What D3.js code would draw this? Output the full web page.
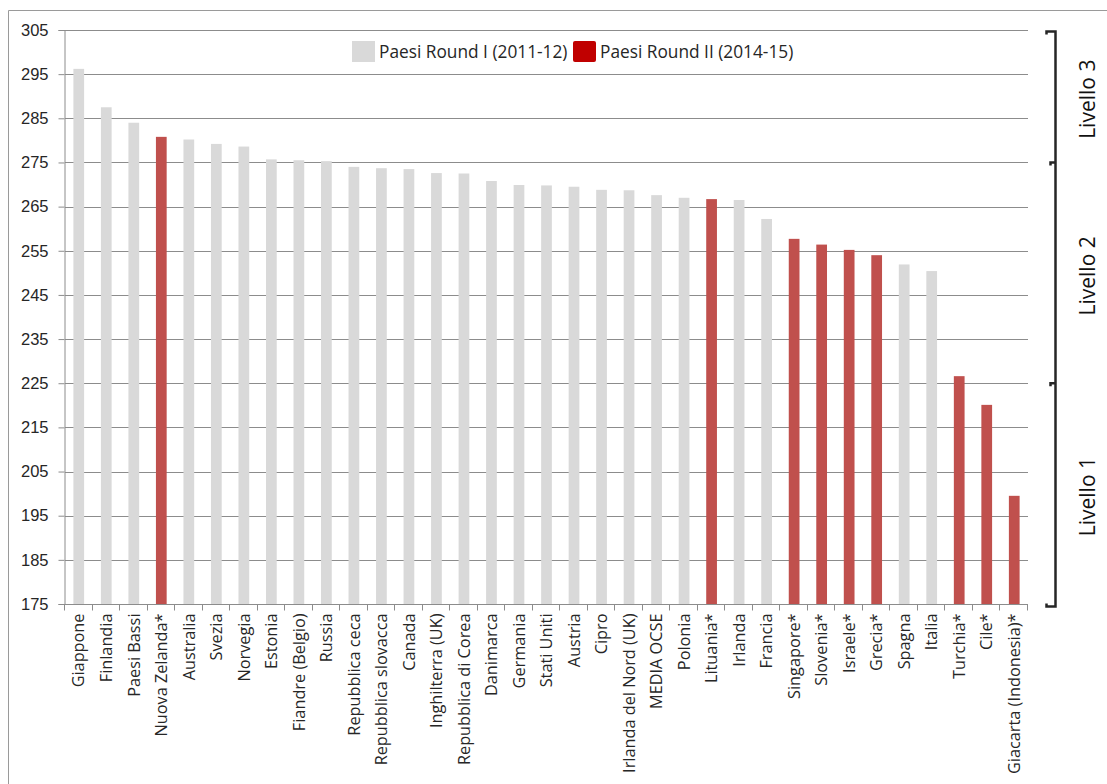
<!DOCTYPE html>
<html>
<head>
<meta charset="utf-8">
<script src="https://cdn.jsdelivr.net/npm/d3@7"></script>
<style>
  html, body { margin: 0; padding: 0; background: #fff; overflow: hidden; }
  svg { display: block; font-family: "Open Sans", "Noto Sans", sans-serif; }
</style>
</head>
<body>
<svg id="chart" width="1107" height="784"></svg>
<script>
// Countries in ranking order
const categories = [
  "Giappone", "Finlandia", "Paesi Bassi", "Nuova Zelanda*", "Australia", "Svezia",
  "Norvegia", "Estonia", "Fiandre (Belgio)", "Russia", "Repubblica ceca",
  "Repubblica slovacca", "Canada", "Inghilterra (UK)", "Repubblica di Corea",
  "Danimarca", "Germania", "Stati Uniti", "Austria", "Cipro", "Irlanda del Nord (UK)",
  "MEDIA OCSE", "Polonia", "Lituania*", "Irlanda", "Francia", "Singapore*",
  "Slovenia*", "Israele*", "Grecia*", "Spagna", "Italia", "Turchia*", "Cile*",
  "Giacarta (Indonesia)*"
];

// Mean score per country
const values = [
  296.2, 287.5, 284.0, 280.8, 280.2, 279.2,
  278.6, 275.7, 275.5, 275.3, 274.0,
  273.7, 273.5, 272.6, 272.5,
  270.8, 269.9, 269.8, 269.5, 268.8, 268.7,
  267.6, 267.0, 266.7, 266.5, 262.2, 257.7,
  256.4, 255.2, 254.0, 251.9, 250.4, 226.6, 220.1,
  199.5
];

// Survey round of each country (1 = 2011-12, 2 = 2014-15)
const rounds = [
  1, 1, 1, 2, 1, 1,
  1, 1, 1, 1, 1,
  1, 1, 1, 1,
  1, 1, 1, 1, 1, 1,
  1, 1, 2, 1, 1, 2,
  2, 2, 2, 1, 1, 2, 2,
  2
];

const yTicks = [175, 185, 195, 205, 215, 225, 235, 245, 255, 265, 275, 285, 295, 305];
const legendLabels = ["Paesi Round I (2011-12)", "Paesi Round II (2014-15)"];

// Proficiency levels and their score boundaries
const levelNames = ["Livello 1", "Livello 2", "Livello 3"];
const levelBounds = [175, 225, 275, 305];

const svg = d3.select("#chart");
const margin = { left: 65, right: 1028, top: 30, bottom: 604 };
const textColor = "#262626";

const x = d3.scaleBand()
  .domain(categories)
  .range([margin.left, margin.right])
  .paddingInner(0.61)
  .paddingOuter(0.305);

const y = d3.scaleLinear()
  .domain([175, 305])
  .range([margin.bottom, margin.top]);

const barColor = { 1: "#d9d9d9", 2: "#c0504d" };

// Outer frame
svg.append("path")
  .attr("d", "M8.5,800 V10.5 H1120")
  .attr("fill", "none")
  .attr("stroke", "#9a9a9a")
  .attr("stroke-width", 1);

// Gridlines
svg.append("g")
  .selectAll("line")
  .data(yTicks.filter(t => t !== 175))
  .join("line")
  .attr("x1", margin.left)
  .attr("x2", margin.right)
  .attr("y1", d => Math.round(y(d)) + 0.5)
  .attr("y2", d => Math.round(y(d)) + 0.5)
  .attr("stroke", "#8c8c8c")
  .attr("stroke-width", 1);

// Bars
svg.append("g")
  .selectAll("rect")
  .data(categories)
  .join("rect")
  .attr("x", d => x(d))
  .attr("width", x.bandwidth())
  .attr("y", (d, i) => y(values[i]))
  .attr("height", (d, i) => y(175) - y(values[i]))
  .attr("fill", (d, i) => barColor[rounds[i]]);

// Y axis
const yAxis = svg.append("g")
  .attr("transform", `translate(${margin.left - 0.5},0)`)
  .call(d3.axisLeft(y).tickValues(yTicks).tickSize(6).tickPadding(10).tickFormat(d3.format("d")));
yAxis.select(".domain").attr("stroke", "#8c8c8c");
yAxis.selectAll(".tick line").attr("stroke", "#8c8c8c");
yAxis.selectAll(".tick text")
  .attr("font-size", 16.5)
  .attr("fill", textColor);

// X axis with tick marks at category boundaries
const xAxisG = svg.append("g")
  .attr("transform", `translate(0,${margin.bottom + 0.5})`);
xAxisG.append("line")
  .attr("x1", margin.left - 0.5)
  .attr("x2", margin.right)
  .attr("stroke", "#8c8c8c");
const step = x.step();
xAxisG.selectAll("line.sep")
  .data(d3.range(categories.length + 1))
  .join("line")
  .attr("class", "sep")
  .attr("x1", i => Math.round(margin.left + i * step) - 0.5)
  .attr("x2", i => Math.round(margin.left + i * step) - 0.5)
  .attr("y1", 0)
  .attr("y2", 6)
  .attr("stroke", "#8c8c8c");
xAxisG.selectAll("text")
  .data(categories)
  .join("text")
  .attr("transform", d => `translate(${x(d) + x.bandwidth() / 2},9) rotate(-90)`)
  .attr("text-anchor", "end")
  .attr("dy", "0.35em")
  .attr("font-size", 16.3)
  .attr("fill", textColor)
  .text(d => d);

// Legend
const legend = svg.append("g");
const legendItems = [
  { label: legendLabels[0], color: "#d9d9d9", x: 352, rx: 0 },
  { label: legendLabels[1], color: "#c00000", x: 573, rx: 2 }
];
legendItems.forEach(item => {
  legend.append("rect")
    .attr("x", item.x)
    .attr("y", 41)
    .attr("width", 23)
    .attr("height", 21)
    .attr("rx", item.rx)
    .attr("fill", item.color);
  legend.append("text")
    .attr("x", item.x + 27)
    .attr("y", 52)
    .attr("dy", "0.35em")
    .attr("font-size", 17.3)
    .attr("fill", textColor)
    .text(item.label);
});

// Level labels
svg.append("g")
  .selectAll("text")
  .data(levelNames)
  .join("text")
  .attr("transform", (d, i) => {
    const cy = (y(levelBounds[i]) + y(levelBounds[i + 1])) / 2;
    return `translate(1088,${cy + 3}) rotate(-90)`;
  })
  .attr("text-anchor", "middle")
  .attr("dy", "0.35em")
  .attr("font-size", 21)
  .attr("fill", "#111")
  .text(d => d);

// Level brackets on the right: one continuous outline with a tick at each boundary
const bx = 1055.5;
const yTop = y(levelBounds[3]) + 1.5;
const yBottom = y(levelBounds[0]) + 2.5;
const bracketPath = d3.path();
bracketPath.moveTo(bx - 9, yTop + 3);
bracketPath.lineTo(bx - 9, yTop);
bracketPath.lineTo(bx, yTop);
[levelBounds[2], levelBounds[1]].forEach(b => {
  const yy = y(b);
  bracketPath.lineTo(bx, yy);
  bracketPath.lineTo(bx - 5, yy);
  bracketPath.lineTo(bx - 5, yy + 3);
  bracketPath.moveTo(bx, yy);
});
bracketPath.lineTo(bx, yBottom);
bracketPath.lineTo(bx - 9, yBottom);
bracketPath.lineTo(bx - 9, yBottom - 3);
svg.append("path")
  .attr("d", bracketPath.toString())
  .attr("fill", "none")
  .attr("stroke", "#262626")
  .attr("stroke-width", 2.5)
  .attr("stroke-linejoin", "miter");
</script>
</body>
</html>
